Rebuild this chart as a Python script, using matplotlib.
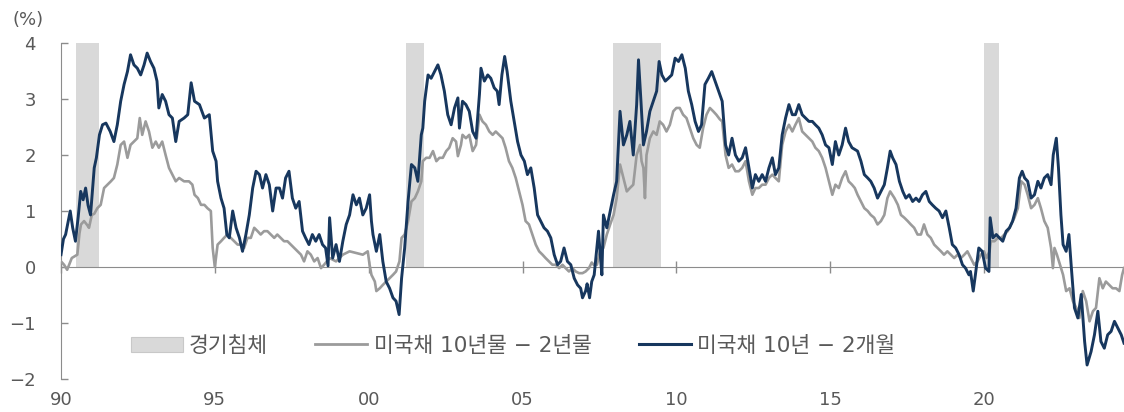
import matplotlib
matplotlib.use("Agg")
import matplotlib.pyplot as plt
from matplotlib.patches import Patch
from matplotlib.lines import Line2D

# Latin glyphs from DejaVu (wider digits/spaces), Hangul from Noto CJK
plt.rcParams['font.family'] = ['DejaVu Sans', 'Noto Sans CJK KR']

# recession periods (start, end) in decimal years
recessions = [(1990.5, 1991.25), (2001.2, 2001.8), (2007.95, 2009.5), (2020.0, 2020.5)]

# US 10Y - 3M spread (%)
navy_years = [
    1990.0, 1990.08, 1990.15, 1990.3, 1990.38, 1990.47, 1990.56, 1990.64, 1990.72, 1990.8,
    1990.88, 1990.96, 1991.08, 1991.15, 1991.25, 1991.35, 1991.46, 1991.6, 1991.72, 1991.83,
    1991.94, 1992.05, 1992.16, 1992.26, 1992.37, 1992.48, 1992.59, 1992.7, 1992.8, 1992.91,
    1993.02, 1993.12, 1993.18, 1993.29, 1993.4, 1993.51, 1993.62, 1993.73, 1993.84, 1994.0,
    1994.12, 1994.23, 1994.34, 1994.5, 1994.66, 1994.82, 1994.93, 1995.04, 1995.09, 1995.2,
    1995.3, 1995.39, 1995.47, 1995.58, 1995.69, 1995.8, 1995.9, 1996.01, 1996.12, 1996.23,
    1996.34, 1996.45, 1996.55, 1996.66, 1996.77, 1996.88, 1996.99, 1997.1, 1997.2, 1997.3,
    1997.41, 1997.52, 1997.63, 1997.74, 1997.85, 1997.95, 1998.06, 1998.17, 1998.28, 1998.39,
    1998.5, 1998.6, 1998.68, 1998.73, 1998.83, 1998.94, 1999.05, 1999.16, 1999.27, 1999.38,
    1999.49, 1999.6, 1999.7, 1999.81, 1999.92, 2000.03, 2000.09, 2000.14, 2000.25, 2000.36,
    2000.46, 2000.57, 2000.68, 2000.79, 2000.89, 2000.99, 2001.07, 2001.17, 2001.28, 2001.39,
    2001.5, 2001.6, 2001.71, 2001.76, 2001.82, 2001.93, 2002.03, 2002.14, 2002.25, 2002.35,
    2002.46, 2002.57, 2002.68, 2002.79, 2002.9, 2002.95, 2003.05, 2003.16, 2003.27, 2003.38,
    2003.49, 2003.6, 2003.65, 2003.76, 2003.87, 2003.97, 2004.08, 2004.18, 2004.24, 2004.33,
    2004.42, 2004.5, 2004.62, 2004.73, 2004.84, 2004.95, 2005.06, 2005.16, 2005.27, 2005.38,
    2005.49, 2005.59, 2005.7, 2005.81, 2005.92, 2006.03, 2006.14, 2006.24, 2006.35, 2006.46,
    2006.57, 2006.68, 2006.79, 2006.89, 2006.95, 2007.05, 2007.1, 2007.18, 2007.25, 2007.33,
    2007.47, 2007.53, 2007.58, 2007.63, 2007.74, 2007.85, 2007.96, 2008.06, 2008.17, 2008.28,
    2008.39, 2008.49, 2008.6, 2008.71, 2008.77, 2008.85, 2008.93, 2009.03, 2009.14, 2009.25,
    2009.36, 2009.44, 2009.53, 2009.64, 2009.74, 2009.85, 2009.96, 2010.07, 2010.18, 2010.29,
    2010.39, 2010.5, 2010.61, 2010.72, 2010.82, 2010.93, 2011.04, 2011.15, 2011.26, 2011.38,
    2011.49, 2011.6, 2011.7, 2011.81, 2011.92, 2012.03, 2012.14, 2012.25, 2012.36, 2012.47,
    2012.57, 2012.68, 2012.79, 2012.9, 2013.01, 2013.12, 2013.22, 2013.33, 2013.44, 2013.55,
    2013.66, 2013.77, 2013.87, 2013.98, 2014.09, 2014.2, 2014.31, 2014.42, 2014.52, 2014.63,
    2014.74, 2014.85, 2014.96, 2015.07, 2015.17, 2015.28, 2015.39, 2015.5, 2015.6, 2015.71,
    2015.8, 2015.89, 2016.0, 2016.11, 2016.22, 2016.32, 2016.43, 2016.54, 2016.65, 2016.76,
    2016.86, 2016.95, 2017.03, 2017.14, 2017.25, 2017.36, 2017.46, 2017.57, 2017.68, 2017.79,
    2017.89, 2018.0, 2018.11, 2018.22, 2018.32, 2018.43, 2018.54, 2018.65, 2018.76, 2018.87,
    2018.97, 2019.08, 2019.19, 2019.3, 2019.4, 2019.51, 2019.56, 2019.65, 2019.72, 2019.83,
    2019.94, 2020.05, 2020.16, 2020.2, 2020.29, 2020.4, 2020.5, 2020.61, 2020.72, 2020.83,
    2020.93, 2021.04, 2021.15, 2021.24, 2021.32, 2021.42, 2021.53, 2021.64, 2021.75, 2021.85,
    2021.96, 2022.07, 2022.18, 2022.25, 2022.35, 2022.42, 2022.5, 2022.57, 2022.67, 2022.76,
    2022.84, 2022.94, 2023.05, 2023.16, 2023.27, 2023.35, 2023.48, 2023.59, 2023.7, 2023.8,
    2023.91, 2024.02, 2024.13, 2024.24, 2024.35, 2024.46, 2024.55,
]
navy_vals = [
    0.22, 0.5, 0.58, 1.0, 0.7, 0.46, 0.9, 1.35, 1.2, 1.41,
    1.1, 0.93, 1.77, 1.95, 2.36, 2.54, 2.57, 2.42, 2.24, 2.54,
    2.96, 3.26, 3.49, 3.79, 3.61, 3.55, 3.43, 3.61, 3.82, 3.67,
    3.55, 3.32, 2.84, 3.08, 2.96, 2.72, 2.66, 2.24, 2.6, 2.66,
    2.72, 3.29, 2.96, 2.9, 2.66, 2.72, 2.07, 1.89, 1.53, 1.23,
    1.05, 0.58, 0.52, 1.0, 0.7, 0.52, 0.28, 0.58, 0.93, 1.41,
    1.71, 1.65, 1.41, 1.65, 1.47, 1.0, 1.41, 1.41, 1.23, 1.59,
    1.71, 1.23, 1.05, 1.17, 0.64, 0.52, 0.4, 0.58, 0.46, 0.58,
    0.4, 0.34, 0.02, 0.88, 0.16, 0.4, 0.1, 0.46, 0.76, 0.93,
    1.29, 1.11, 1.23, 0.93, 1.05, 1.29, 0.82, 0.58, 0.28, 0.58,
    0.1, -0.26, -0.38, -0.55, -0.61, -0.85, -0.2, 0.34, 1.17, 1.83,
    1.77, 1.53, 2.36, 2.48, 2.96, 3.43, 3.37, 3.49, 3.61, 3.43,
    3.14, 2.72, 2.54, 2.84, 3.02, 2.48, 2.96, 2.9, 2.78, 2.42,
    2.3, 3.08, 3.55, 3.32, 3.43, 3.37, 3.2, 3.14, 2.9, 3.43,
    3.76, 3.49, 2.96, 2.6, 2.24, 2.0, 1.89, 1.65, 1.77, 1.41,
    0.93, 0.82, 0.7, 0.64, 0.52, 0.22, 0.04, 0.1, 0.34, 0.1,
    0.04, -0.2, -0.32, -0.38, -0.55, -0.43, -0.3, -0.55, -0.26, -0.14,
    0.64, 0.2, -0.14, 0.93, 0.7, 1.0, 1.29, 1.53, 2.78, 2.18,
    2.36, 2.6, 2.0, 2.9, 3.7, 2.96, 2.18, 2.42, 2.78, 2.96,
    3.14, 3.67, 3.43, 3.32, 3.37, 3.43, 3.73, 3.67, 3.79, 3.55,
    3.14, 2.9, 2.6, 2.42, 2.54, 3.26, 3.37, 3.49, 3.32, 3.14,
    2.96, 2.18, 2.0, 2.3, 2.0, 1.89, 1.95, 2.13, 1.77, 1.41,
    1.65, 1.53, 1.65, 1.53, 1.77, 1.95, 1.65, 1.77, 2.36, 2.66,
    2.9, 2.72, 2.72, 2.9, 2.72, 2.66, 2.6, 2.6, 2.54, 2.48,
    2.36, 2.18, 2.13, 1.83, 2.24, 2.0, 2.18, 2.48, 2.24, 2.13,
    2.1, 2.07, 1.89, 1.65, 1.59, 1.53, 1.41, 1.23, 1.35, 1.47,
    1.77, 2.07, 1.95, 1.83, 1.53, 1.35, 1.23, 1.29, 1.17, 1.23,
    1.17, 1.29, 1.35, 1.17, 1.11, 1.05, 1.0, 0.88, 1.0, 0.7,
    0.4, 0.34, 0.22, 0.04, -0.02, -0.14, -0.08, -0.43, -0.14, 0.34,
    0.28, -0.02, -0.08, 0.88, 0.52, 0.58, 0.52, 0.46, 0.64, 0.7,
    0.82, 1.05, 1.59, 1.71, 1.59, 1.53, 1.23, 1.29, 1.53, 1.41,
    1.59, 1.65, 1.47, 2.0, 2.3, 1.77, 0.93, 0.4, 0.28, 0.58,
    -0.02, -0.73, -0.91, -0.49, -1.33, -1.75, -1.51, -1.21, -0.79, -1.33,
    -1.45, -1.21, -1.15, -0.97, -1.09, -1.21, -1.36,
]

# US 10Y - 2Y spread (%)
gray_years = [
    1990.0, 1990.1, 1990.2, 1990.35, 1990.53, 1990.6, 1990.65, 1990.75, 1990.85, 1990.91,
    1991.0, 1991.08, 1991.18, 1991.29, 1991.4, 1991.51, 1991.62, 1991.72, 1991.83, 1991.94,
    1992.05, 1992.16, 1992.26, 1992.37, 1992.48, 1992.56, 1992.64, 1992.75, 1992.86, 1992.97,
    1993.08, 1993.18, 1993.29, 1993.4, 1993.51, 1993.62, 1993.73, 1993.84, 1994.0, 1994.16,
    1994.27, 1994.34, 1994.45, 1994.55, 1994.66, 1994.76, 1994.87, 1994.93, 1995.0, 1995.09,
    1995.2, 1995.3, 1995.41, 1995.52, 1995.63, 1995.74, 1995.85, 1995.95, 1996.06, 1996.17,
    1996.28, 1996.39, 1996.49, 1996.6, 1996.71, 1996.82, 1996.93, 1997.03, 1997.14, 1997.25,
    1997.36, 1997.47, 1997.58, 1997.69, 1997.8, 1997.9, 1998.01, 1998.12, 1998.23, 1998.34,
    1998.45, 1998.55, 1998.73, 1998.94, 1999.16, 1999.38, 1999.6, 1999.81, 1999.97, 2000.03,
    2000.09, 2000.2, 2000.25, 2000.36, 2000.46, 2000.57, 2000.68, 2000.79, 2000.89, 2001.0,
    2001.07, 2001.17, 2001.28, 2001.39, 2001.5, 2001.6, 2001.71, 2001.76, 2001.87, 2001.98,
    2002.09, 2002.2, 2002.3, 2002.41, 2002.52, 2002.62, 2002.73, 2002.84, 2002.9, 2003.0,
    2003.05, 2003.16, 2003.27, 2003.38, 2003.49, 2003.6, 2003.7, 2003.81, 2003.92, 2004.03,
    2004.13, 2004.24, 2004.35, 2004.45, 2004.56, 2004.67, 2004.78, 2004.89, 2005.0, 2005.1,
    2005.21, 2005.32, 2005.43, 2005.54, 2005.65, 2005.75, 2005.86, 2005.97, 2006.08, 2006.19,
    2006.3, 2006.4, 2006.51, 2006.62, 2006.73, 2006.84, 2006.95, 2007.05, 2007.16, 2007.25,
    2007.31, 2007.42, 2007.52, 2007.63, 2007.74, 2007.85, 2007.96, 2008.06, 2008.17, 2008.28,
    2008.39, 2008.49, 2008.6, 2008.71, 2008.82, 2008.87, 2008.93, 2008.98, 2009.03, 2009.14,
    2009.25, 2009.36, 2009.46, 2009.57, 2009.68, 2009.79, 2009.9, 2010.0, 2010.11, 2010.22,
    2010.33, 2010.44, 2010.55, 2010.66, 2010.76, 2010.87, 2010.98, 2011.09, 2011.2, 2011.3,
    2011.41, 2011.49, 2011.6, 2011.7, 2011.81, 2011.92, 2012.03, 2012.14, 2012.25, 2012.36,
    2012.47, 2012.57, 2012.68, 2012.79, 2012.9, 2013.01, 2013.12, 2013.22, 2013.33, 2013.44,
    2013.55, 2013.66, 2013.77, 2013.87, 2013.98, 2014.09, 2014.2, 2014.31, 2014.42, 2014.52,
    2014.63, 2014.74, 2014.85, 2014.96, 2015.07, 2015.17, 2015.28, 2015.39, 2015.5, 2015.6,
    2015.71, 2015.8, 2015.89, 2016.0, 2016.11, 2016.22, 2016.32, 2016.43, 2016.54, 2016.65,
    2016.76, 2016.86, 2016.95, 2017.09, 2017.2, 2017.3, 2017.41, 2017.52, 2017.62, 2017.73,
    2017.84, 2017.95, 2018.05, 2018.16, 2018.27, 2018.38, 2018.49, 2018.6, 2018.7, 2018.81,
    2018.92, 2019.03, 2019.14, 2019.25, 2019.36, 2019.46, 2019.57, 2019.68, 2019.79, 2019.9,
    2020.0, 2020.08, 2020.18, 2020.22, 2020.34, 2020.45, 2020.56, 2020.66, 2020.77, 2020.88,
    2020.99, 2021.1, 2021.21, 2021.32, 2021.42, 2021.53, 2021.64, 2021.75, 2021.85, 2021.96,
    2022.07, 2022.18, 2022.24, 2022.29, 2022.37, 2022.47, 2022.57, 2022.67, 2022.78, 2022.89,
    2023.0, 2023.1, 2023.21, 2023.32, 2023.43, 2023.54, 2023.64, 2023.75, 2023.86, 2023.96,
    2024.07, 2024.18, 2024.29, 2024.4, 2024.49, 2024.55,
]
gray_vals = [
    0.1, 0.04, -0.05, 0.16, 0.22, 0.6, 0.76, 0.82, 0.75, 0.7,
    0.93, 0.95, 1.05, 1.11, 1.41, 1.47, 1.53, 1.59, 1.83, 2.18,
    2.24, 1.95, 2.18, 2.24, 2.3, 2.66, 2.36, 2.6, 2.42, 2.13,
    2.24, 2.13, 2.24, 2.0, 1.77, 1.65, 1.53, 1.59, 1.53, 1.53,
    1.47, 1.29, 1.23, 1.11, 1.11, 1.05, 1.0, 0.34, 0.0, 0.4,
    0.46, 0.52, 0.58, 0.52, 0.46, 0.4, 0.4, 0.34, 0.52, 0.52,
    0.7, 0.64, 0.58, 0.64, 0.64, 0.58, 0.52, 0.58, 0.52, 0.46,
    0.46, 0.4, 0.34, 0.28, 0.22, 0.1, 0.28, 0.22, 0.1, 0.16,
    -0.02, 0.04, 0.16, 0.1, 0.22, 0.28, 0.25, 0.22, 0.28, 0.04,
    -0.14, -0.26, -0.43, -0.38, -0.32, -0.26, -0.2, -0.14, -0.08, 0.1,
    0.52, 0.58, 0.82, 1.17, 1.23, 1.35, 1.53, 1.89, 1.95, 1.95,
    2.07, 1.89, 1.95, 1.95, 2.07, 2.13, 2.3, 2.24, 1.98, 2.18,
    2.36, 2.3, 2.36, 2.07, 2.18, 2.72, 2.6, 2.54, 2.42, 2.36,
    2.42, 2.36, 2.3, 2.13, 1.89, 1.77, 1.59, 1.35, 1.11, 0.82,
    0.76, 0.58, 0.4, 0.28, 0.22, 0.16, 0.1, 0.04, 0.04, -0.02,
    0.04, -0.02, -0.08, -0.02, -0.08, -0.11, -0.11, -0.08, -0.02, 0.08,
    0.04, 0.04, 0.28, 0.34, 0.58, 0.76, 0.93, 1.23, 1.83, 1.59,
    1.35, 1.41, 1.47, 2.0, 2.18, 1.89, 1.77, 1.23, 2.0, 2.3,
    2.42, 2.36, 2.6, 2.54, 2.42, 2.54, 2.78, 2.84, 2.84, 2.72,
    2.66, 2.48, 2.3, 2.18, 2.13, 2.48, 2.72, 2.84, 2.78, 2.72,
    2.64, 2.6, 2.0, 1.77, 1.83, 1.71, 1.71, 1.77, 1.89, 1.53,
    1.29, 1.41, 1.41, 1.47, 1.47, 1.59, 1.65, 1.59, 1.53, 2.18,
    2.42, 2.54, 2.42, 2.54, 2.66, 2.42, 2.36, 2.3, 2.24, 2.13,
    2.07, 1.95, 1.77, 1.53, 1.29, 1.47, 1.41, 1.59, 1.71, 1.53,
    1.47, 1.41, 1.29, 1.17, 1.05, 1.0, 0.93, 0.88, 0.76, 0.82,
    0.93, 1.23, 1.35, 1.23, 1.11, 0.93, 0.88, 0.82, 0.76, 0.7,
    0.58, 0.58, 0.76, 0.58, 0.52, 0.4, 0.34, 0.28, 0.22, 0.28,
    0.22, 0.16, 0.22, 0.16, 0.22, 0.28, 0.16, 0.04, 0.1, 0.22,
    0.28, 0.16, 0.28, 0.46, 0.46, 0.52, 0.52, 0.58, 0.64, 0.76,
    0.88, 1.05, 1.53, 1.47, 1.29, 1.05, 1.11, 1.23, 1.05, 0.82,
    0.7, 0.34, -0.02, 0.34, 0.22, 0.04, -0.14, -0.43, -0.38, -0.61,
    -0.73, -0.91, -0.43, -0.61, -0.97, -0.79, -0.73, -0.2, -0.38, -0.26,
    -0.32, -0.38, -0.38, -0.43, -0.14, -0.02,
]

tick_years = [1990, 1995, 2000, 2005, 2010, 2015, 2020]
tick_labels = ['90', '95', '00', '05', '10', '15', '20']

navy = '#17375e'
gray = '#9b9b9b'
text_color = '#595959'
axis_color = '#8c8c8c'

fig = plt.figure(figsize=(11.24, 4.12), dpi=100)
ax = fig.add_axes([61 / 1124, 0.0801, 1 - 61 / 1124, 0.8155])

for start, end in recessions:
    ax.axvspan(start, end, ymin=1 / 3, ymax=1, color='#d9d9d9', lw=0, zorder=1)

ax.plot(gray_years, gray_vals, color=gray, lw=1.9, zorder=3)
ax.plot(navy_years, navy_vals, color=navy, lw=2.1, zorder=4)

ax.set_xlim(1990, 2024.55)
ax.set_ylim(-2, 4)

for s in ['top', 'right']:
    ax.spines[s].set_visible(False)
ax.spines['bottom'].set_position(('data', 0))
ax.spines['bottom'].set_color(axis_color)
ax.spines['left'].set_color(axis_color)
ax.spines['bottom'].set_zorder(2)

ax.set_xticks(tick_years)
ax.set_xticklabels(tick_labels)
ax.set_yticks([-2, -1, 0, 1, 2, 3, 4])
ax.tick_params(axis='x', direction='inout', length=9, width=1, color=axis_color,
               pad=85, labelsize=13, labelcolor=text_color)
ax.tick_params(axis='y', direction='in', length=5, width=1, color=axis_color,
               pad=18, labelsize=13, labelcolor=text_color)

fig.text(12 / 1124, 1 - 20 / 412, '(%)', fontsize=13, color=text_color, va='center', ha='left')

handles = [
    Patch(facecolor='#d9d9d9', edgecolor='#c8c8c8', lw=0.8),
    Line2D([], [], color=gray, lw=2),
    Line2D([], [], color=navy, lw=2.2),
]
labels = ['경기침체', '미국채 10년물 − 2년물', '미국채 10년 − 2개월']
fig.legend(handles, labels, loc='center left', bbox_to_anchor=(131 / 1124, 1 - 346 / 412),
           ncol=3, frameon=False, fontsize=15.5, labelcolor=text_color,
           handlelength=2.4, handleheight=0.7, handletextpad=0.3, columnspacing=2.2,
           borderpad=0, borderaxespad=0)

fig.savefig('out.png', dpi=100)
